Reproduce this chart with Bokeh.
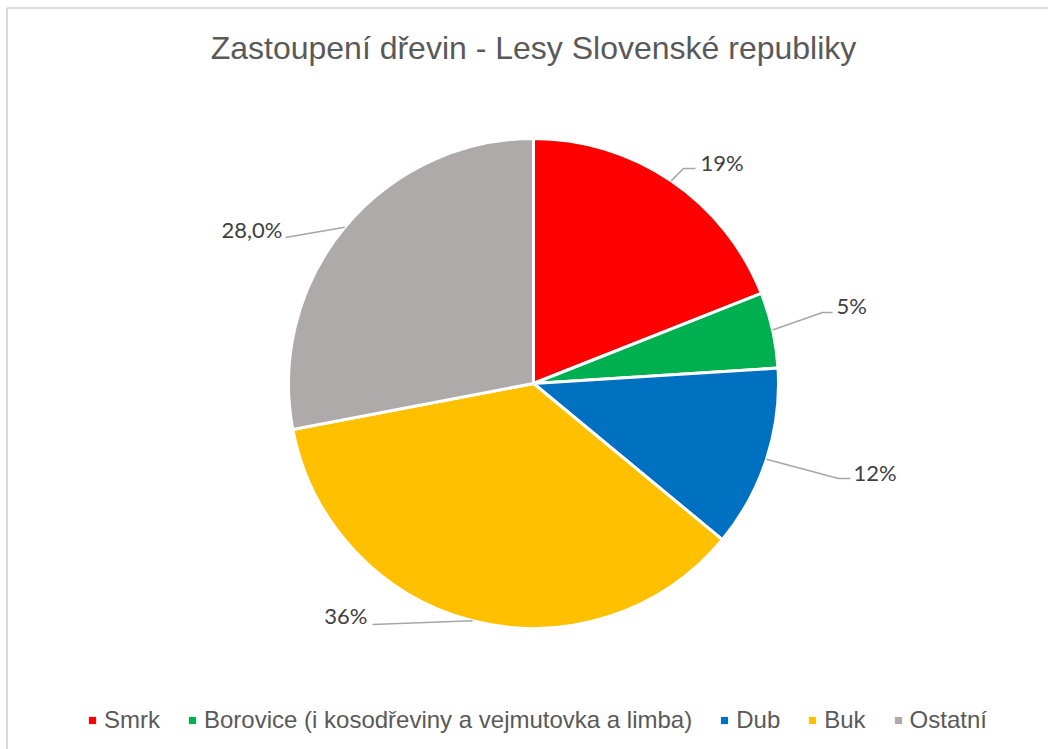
import math
from bokeh.plotting import figure
from bokeh.models import Range1d, ColumnDataSource, Legend, LegendItem
from bokeh.core.properties import value
from bokeh.embed import file_html
from bokeh.resources import INLINE

# ---- data ----
categories = ["Smrk", "Borovice (i kosodřeviny a vejmutovka a limba)", "Dub", "Buk", "Ostatní"]
shares = [19.0, 5.0, 12.0, 36.0, 28.0]
label_texts = ["19%", "5%", "12%", "36%", "28,0%"]
colors = ["#FF0000", "#00B050", "#0070C0", "#FFC000", "#AEAAAA"]

# ---- layout (canvas pixels, y up) ----
W, H = 1048, 749
CX, CY, R = 533, 366, 245
# label anchor (x, y), align, leader elbow (x, y), leader end (x, y)
label_layout = [
    ((700, 587), "left", (683, 581), (695, 581)),
    ((836, 444), "left", (822, 437), (832, 437)),
    ((853, 277), "left", (838, 271), (850, 271)),
    ((367, 134), "right", (372, 125), (372, 125)),
    ((282, 520), "right", (285, 512), (285, 512)),
]

p = figure(width=W, height=H, output_backend="svg", toolbar_location=None,
           x_range=Range1d(0, W), y_range=Range1d(0, H), min_border=0,
           background_fill_color="white", border_fill_color="white")
p.axis.visible = False
p.grid.visible = False
p.outline_line_color = None

# chart-area border (top and left, as cropped in the reference)
p.segment(x0=[6.5, 6.5], y0=[0, 741.5], x1=[6.5, W], y1=[741.5, 741.5],
          line_color="#d9d9d9", line_width=2)

total = sum(shares)
starts, ends, mids = [], [], []
cum = 0.0
for v in shares:
    a0 = math.pi / 2 - 2 * math.pi * cum / total
    cum += v
    a1 = math.pi / 2 - 2 * math.pi * cum / total
    starts.append(a0)
    ends.append(a1)
    mids.append((a0 + a1) / 2)

src = ColumnDataSource(dict(category=categories, share=shares, color=colors,
                            start=starts, end=ends))
p.wedge(x=CX, y=CY, radius=R, radius_units="screen", start_angle="start", end_angle="end",
        direction="clock", fill_color="color", line_color="white", line_width=3, source=src)

# leader lines and labels
for i, (anchor, align, elbow, end) in enumerate(label_layout):
    sx = CX + R * math.cos(mids[i])
    sy = CY + R * math.sin(mids[i])
    p.line([sx, elbow[0], end[0]], [sy, elbow[1], end[1]], line_color="#a6a6a6", line_width=1.5)
    p.text(x=[anchor[0]], y=[anchor[1]], text=[label_texts[i]], text_align=align,
           text_baseline="middle", text_font=value("Lato"), text_font_size="22px",
           text_color="#404040")

# title
p.text(x=[533], y=[702], text=["Zastoupení dřevin - Lesy Slovenské republiky"],
       text_align="center", text_baseline="middle", text_font=value("Liberation Sans"),
       text_font_size="32px", text_color="#595959")

# legend via square markers (not drawn on the canvas)
lsrc = ColumnDataSource(dict(x=[float("nan")] * len(categories), y=[float("nan")] * len(categories),
                             color=colors, category=categories))
lr = p.scatter(x="x", y="y", marker="square", fill_color="color", line_color=None, source=lsrc)
items = [LegendItem(label=c, renderers=[lr], index=i) for i, c in enumerate(categories)]
legend = Legend(items=items, orientation="horizontal", location=(83, 15),
                label_text_font="Liberation Sans", label_text_font_size="24px",
                label_text_color="#595959", glyph_width=18, glyph_height=18,
                label_standoff=3, spacing=23, padding=0, margin=0,
                border_line_color=None, background_fill_alpha=0)
p.add_layout(legend)

open("out.html", "w").write(file_html(p, INLINE))
